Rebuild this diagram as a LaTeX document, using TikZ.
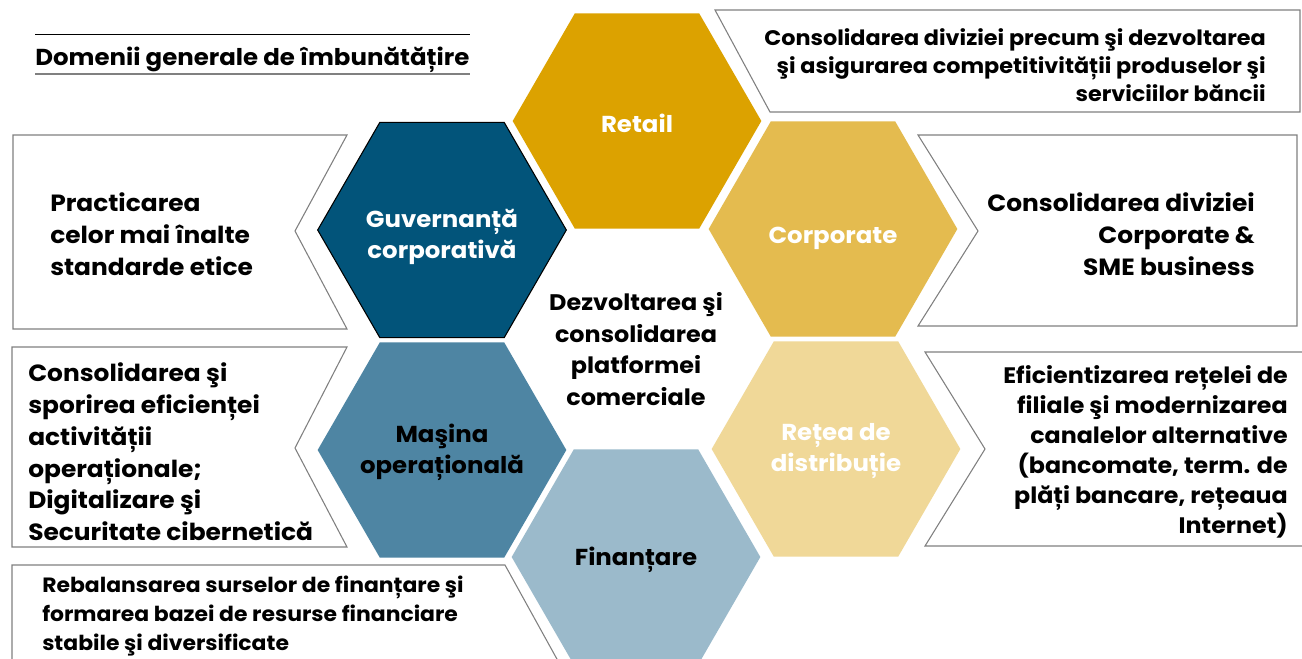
\documentclass[tikz,border=0pt]{standalone}
\usepackage{fontspec}
\setmainfont{Poppins}[FakeStretch=1.06]
\usetikzlibrary{shapes.geometric}
\definecolor{cRetail}{RGB}{220,162,0}
\definecolor{cCorp}{RGB}{228,187,79}
\definecolor{cRetea}{RGB}{240,216,152}
\definecolor{cGuv}{RGB}{2,84,122}
\definecolor{cMasina}{RGB}{78,133,163}
\definecolor{cFin}{RGB}{155,186,203}
\definecolor{cLine}{RGB}{128,128,128}
\begin{document}
\begin{tikzpicture}[x=0.75pt,y=-0.75pt,
  hexa/.style={regular polygon, regular polygon sides=6, minimum size=186.5pt,
    inner sep=0pt},
  hexlbl/.style={inner sep=0pt, align=center, font=\bfseries\fontsize{17.3}{23.5}\selectfont},
  callout/.style={draw=cLine, line width=0.8pt, fill=white},
  boxtxt/.style={inner sep=0pt, font=\bfseries\fontsize{17.6}{23.8}\selectfont}]
\clip (0,0) rectangle (1302,658);
\fill[white] (0,0) rectangle (1302,658);

% title
\node[boxtxt, anchor=base west, font=\bfseries\fontsize{17.3}{23.5}\selectfont] (title) at (35,65) {Domenii generale de îmbunătățire};
\draw[black, line width=0.6pt] (35,34) -- (470,34);
\draw[cLine, line width=0.8pt] (35,74) -- (470,74);

% callout boxes
\draw[callout] (715,10) -- (1300,10) -- (1300,112) -- (770,112) -- cycle;
\draw[callout] (13,135) -- (347,135) -- (295,231) -- (347,329) -- (13,329) -- cycle;
\draw[callout] (918,135) -- (1297,135) -- (1297,326) -- (918,326) -- (978,231) -- cycle;
\draw[callout] (12,347) -- (347,347) -- (295,448) -- (347,547) -- (12,547) -- cycle;
\draw[callout] (925,352) -- (1310,352) -- (1310,546) -- (925,546) -- (985,449) -- cycle;
\draw[callout] (12,670) -- (12,565) -- (505,565) -- (563,670);

% hexagons
\node[hexa, fill=cRetail] (retail) at (637,121) {};
\node[hexa, fill=cGuv, draw=black, line width=0.8pt] (guv) at (442,230) {};
\node[hexa, fill=cCorp] (corp) at (833,229) {};
\node[hexa, fill=cMasina] (masina) at (442,450) {};
\node[hexa, fill=cRetea] (retea) at (836,449) {};
\node[hexa, fill=cFin] (fin) at (636,557) {};

% hexagon labels
\node[hexlbl, text=white] (lretail) at (637,123) {Retail};
\node[hexlbl, text=white] (lguv) at (442,237) {Guvernanță\\corporativă};
\node[hexlbl, text=white] (lcorp) at (833,238) {Corporate};
\node[hexlbl, text=black] (lmasina) at (442,452) {Maşina\\operațională};
\node[hexlbl, text=white] (lretea) at (836,451) {Rețea de\\distribuție};
\node[hexlbl, text=black] (lfin) at (636,560) {Finanțare};

% centre
\node[hexlbl, font=\bfseries\fontsize{16.9}{23.8}\selectfont] (centre) at (636,349)
  {Dezvoltarea şi\\consolidarea\\platformei\\comerciale};

% callout texts
\node[boxtxt, align=right, anchor=east, font=\bfseries\fontsize{15.8}{21}\selectfont] (tA) at (1266,65)
  {Consolidarea diviziei precum şi dezvoltarea\\şi asigurarea competitivității produselor şi\\serviciilor băncii};
\node[boxtxt, align=left, anchor=west] (tB) at (50,234)
  {Practicarea\\celor mai înalte\\standarde etice};
\node[boxtxt, align=right, anchor=east] (tC) at (1255,234)
  {Consolidarea diviziei\\Corporate \&\\SME business};
\node[boxtxt, align=left, anchor=west] (tD) at (28,452)
  {Consolidarea şi\\sporirea eficienței\\activității\\operaționale;\\Digitalizare şi\\Securitate cibernetică};
\node[boxtxt, align=right, anchor=east, font=\bfseries\fontsize{16.8}{22.5}\selectfont] (tE) at (1288,452)
  {Eficientizarea rețelei de\\filiale şi modernizarea\\canalelor alternative\\(bancomate, term. de\\plăți bancare, rețeaua\\Internet)};
\node[boxtxt, align=left, anchor=west, font=\bfseries\fontsize{15.5}{22}\selectfont] (tF) at (42,616)
  {Rebalansarea surselor de finanțare şi\\formarea bazei de resurse financiare\\stabile şi diversificate};
\end{tikzpicture}
\end{document}
